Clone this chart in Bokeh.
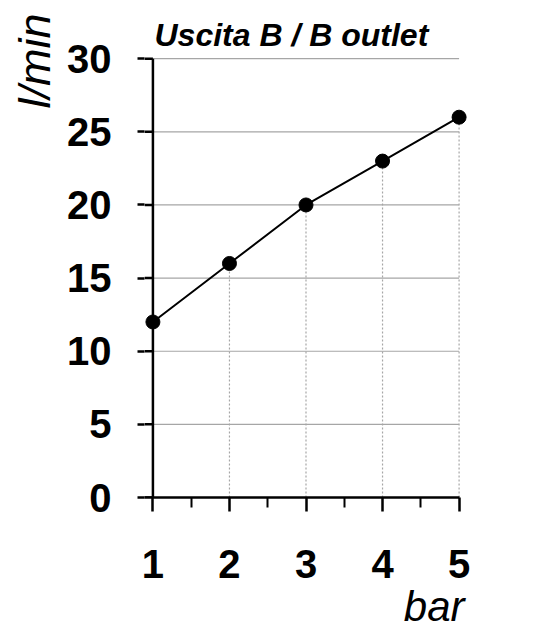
from bokeh.plotting import figure
from bokeh.models import FixedTicker, Range1d, Title
from bokeh.embed import file_html
from bokeh.resources import INLINE

# data
pressure_bar = [1, 2, 3, 4, 5]
flow_lmin = [12, 16, 20, 23, 26]
y_ticks = [0, 5, 10, 15, 20, 25, 30]
x_ticks = [1, 2, 3, 4, 5]
x_minor = [1.5, 2.5, 3.5, 4.5]
title_text = "Uscita B / B outlet"
x_label = "bar"
y_label = "l/min"

FONT = "Liberation Sans"
X_MIN, X_MAX = x_ticks[0], x_ticks[-1]
Y_MIN, Y_MAX = y_ticks[0], y_ticks[-1]
PAD = 0.11
YPAD = 0.15

p = figure(width=549, height=630, output_backend="svg", toolbar_location=None,
           x_range=Range1d(X_MIN - PAD, X_MAX + PAD), y_range=Range1d(Y_MIN, Y_MAX + YPAD),
           min_border_left=144, min_border_right=82,
           min_border_top=56, min_border_bottom=133)
p.outline_line_color = None
p.background_fill_color = "white"
p.border_fill_color = "white"
p.xgrid.visible = False
p.ygrid.visible = False

# title
p.title.text = title_text
p.title.align = "left"
p.title.offset = 10
p.title.standoff = 8
p.title.text_font = FONT
p.title.text_font_style = "bold italic"
p.title.text_font_size = "32px"
p.title.text_color = "black"

# y axis: labels and outer tick part; the line itself is drawn at x = X_MIN below
ya = p.yaxis[0]
ya.ticker = FixedTicker(ticks=y_ticks)
ya.bounds = (Y_MIN, Y_MAX)
ya.axis_line_color = None
ya.major_tick_out = 7
ya.major_tick_in = 0
ya.major_tick_line_width = 2.5
ya.major_tick_line_color = "black"
ya.minor_tick_out = 0
ya.minor_tick_in = 0
ya.major_label_text_font = FONT
ya.major_label_text_font_style = "bold"
ya.major_label_text_font_size = "40px"
ya.major_label_text_color = "black"
ya.major_label_standoff = 26

xa = p.xaxis[0]
xa.ticker = FixedTicker(ticks=x_ticks, minor_ticks=x_minor)
xa.bounds = (X_MIN - PAD, X_MAX)
xa.axis_line_width = 2.5
xa.axis_line_color = "black"
xa.major_tick_out = 14
xa.major_tick_in = 0
xa.major_tick_line_width = 2.5
xa.minor_tick_out = 10
xa.minor_tick_in = 0
xa.minor_tick_line_width = 2
xa.minor_tick_line_color = "black"
xa.major_label_text_font = FONT
xa.major_label_text_font_style = "bold"
xa.major_label_text_font_size = "40px"
xa.major_label_text_color = "black"
xa.major_label_standoff = 38

# axis titles as side titles
p.add_layout(Title(text=x_label, align="right", text_font=FONT, text_font_style="italic",
                   text_font_size="42px", text_color="black", standoff=0, offset=3), "below")
p.add_layout(Title(text=y_label, align="right", text_font=FONT, text_font_style="italic",
                   text_font_size="45px", text_color="black", standoff=10, offset=-43), "left")

# horizontal gridlines (from axis to last x value)
grid_levels = [t for t in y_ticks if t > Y_MIN]
p.segment(x0=[X_MIN] * len(grid_levels), y0=grid_levels,
          x1=[X_MAX] * len(grid_levels), y1=grid_levels,
          line_color="#a6a6a6", line_width=1.2)

# vertical dotted drop lines
p.segment(x0=pressure_bar, y0=[Y_MIN] * len(pressure_bar), x1=pressure_bar, y1=flow_lmin,
          line_color="#a6a6a6", line_width=1.2, line_dash="2 2")

# y axis line at x = X_MIN with inner part of tick marks
p.segment(x0=[X_MIN], y0=[Y_MIN], x1=[X_MIN], y1=[Y_MAX], line_color="black", line_width=2.5)
p.segment(x0=[X_MIN - PAD] * len(y_ticks), y0=y_ticks, x1=[X_MIN] * len(y_ticks), y1=y_ticks,
          line_color="black", line_width=2.5)

# data line and markers
p.line(pressure_bar, flow_lmin, line_color="black", line_width=2)
p.scatter(pressure_bar, flow_lmin, size=14, fill_color="black", line_color="black")

open("out.html", "w").write(file_html(p, INLINE))
